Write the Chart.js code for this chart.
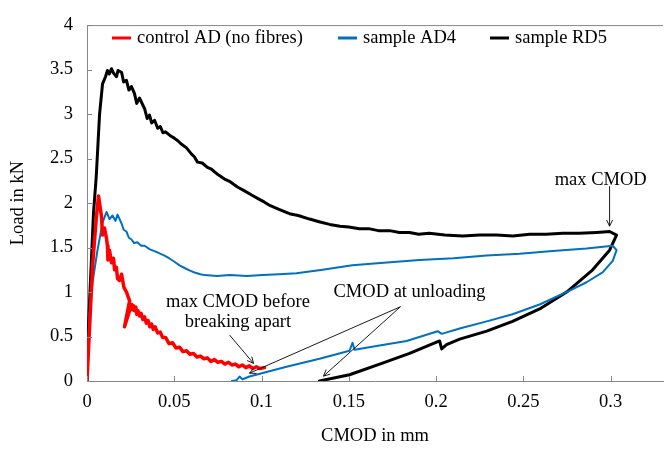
<!DOCTYPE html>
<html><head><meta charset="utf-8">
<script src="https://cdn.jsdelivr.net/npm/chart.js@4/dist/chart.umd.min.js"></script>
<style>html,body{margin:0;padding:0;background:#fff;}#wrap{width:665px;height:451px;}</style>
</head><body><div id="wrap"><canvas id="c" width="665" height="451"></canvas></div>
<script>
// ---- data ----
const xTickValues = [0, 0.05, 0.1, 0.15, 0.2, 0.25, 0.3];
const xTickLabels = ['0', '0.05', '0.1', '0.15', '0.2', '0.25', '0.3'];
const yTickValues = [0, 0.5, 1, 1.5, 2, 2.5, 3, 3.5, 4];
const yTickLabels = ['0', '0.5', '1', '1.5', '2', '2.5', '3', '3.5', '4'];
const seriesNames = ['control AD (no fibres)', 'sample AD4', 'sample RD5'];
const xTitle = 'CMOD in mm';
const yTitle = 'Load in kN';

const controlCMOD = [0,0.0032,0.0054,0.0066,0.0083,0.0089,0.0100,0.0112,0.0117,0.0120,0.0129,0.0140,0.0152,0.0158,0.0168,0.0175,0.0186,0.0198,0.0212,0.0226,0.0244,0.0215,0.0255,0.0260,0.0265,0.0272,0.0280,0.0285,0.0292,0.0301,0.0310,0.0320,0.0330,0.0340,0.0350,0.0360,0.0370,0.0380,0.0390,0.0405,0.0420,0.0433,0.0450,0.0470,0.0490,0.0510,0.0530,0.0550,0.0570,0.0590,0.0610,0.0630,0.0650,0.0670,0.0690,0.0710,0.0730,0.0750,0.0770,0.0790,0.0810,0.0830,0.0850,0.0870,0.0890,0.0910,0.0930,0.0950,0.0970,0.0990,0.1017];
const controlLoad = [0,1.30,1.85,2.08,1.85,1.64,1.72,1.60,1.52,1.36,1.47,1.33,1.38,1.25,1.28,1.15,1.13,1.20,1.05,1.00,0.90,0.61,0.86,0.80,0.85,0.79,0.83,0.75,0.79,0.73,0.76,0.69,0.72,0.65,0.68,0.61,0.64,0.58,0.61,0.54,0.55,0.49,0.49,0.42,0.43,0.37,0.38,0.33,0.34,0.30,0.31,0.27,0.28,0.25,0.26,0.22,0.24,0.21,0.22,0.19,0.21,0.18,0.19,0.16,0.18,0.15,0.17,0.14,0.16,0.14,0.15];

const ad4CMOD = [0,0.0014,0.0032,0.0060,0.0089,0.0112,0.0129,0.0146,0.0163,0.0175,0.0198,0.0210,0.0226,0.0240,0.0255,0.0270,0.0289,0.0310,0.0330,0.0360,0.0387,0.0410,0.0444,0.0470,0.0501,0.0530,0.0559,0.0590,0.0616,0.0650,0.0673,0.0745,0.0817,0.0915,0.1006,0.1100,0.1200,0.1350,0.1520,0.1700,0.1905,0.2100,0.2290,0.2480,0.2668,0.2862,0.3012,0.3034,0.3012,0.2954,0.2862,0.2748,0.2593,0.2438,0.2290,0.2135,0.2032,0.2009,0.1831,0.1676,0.1533,0.1521,0.1504,0.1332,0.1143,0.0931,0.0891,0.0874,0.0857,0.0830];
const ad4Load = [0,0.75,1.11,1.47,1.78,1.90,1.82,1.86,1.80,1.87,1.77,1.70,1.68,1.61,1.59,1.55,1.56,1.52,1.52,1.48,1.46,1.44,1.41,1.38,1.34,1.30,1.27,1.24,1.22,1.20,1.19,1.18,1.19,1.18,1.19,1.20,1.21,1.25,1.30,1.33,1.36,1.38,1.41,1.43,1.46,1.49,1.52,1.47,1.35,1.22,1.11,1.00,0.86,0.75,0.67,0.59,0.53,0.56,0.45,0.40,0.35,0.43,0.34,0.25,0.16,0.05,0.02,0.05,0.01,0];

const rd5CMOD = [0,0.0008,0.0037,0.0053,0.0072,0.0089,0.0106,0.0117,0.0128,0.0140,0.0152,0.0169,0.0178,0.0198,0.0210,0.0226,0.0240,0.0255,0.0272,0.0285,0.0301,0.0330,0.0345,0.0358,0.0370,0.0387,0.0405,0.0420,0.0435,0.0450,0.0475,0.0500,0.0520,0.0542,0.0570,0.0599,0.0615,0.0633,0.0660,0.0690,0.0713,0.0750,0.0788,0.0820,0.0862,0.0900,0.0943,0.0980,0.1017,0.1050,0.1100,0.1160,0.1210,0.1275,0.1330,0.1390,0.1450,0.1500,0.1560,0.1619,0.1670,0.1734,0.1790,0.1848,0.1900,0.1960,0.2050,0.2152,0.2250,0.2347,0.2440,0.2536,0.2630,0.2725,0.2820,0.2920,0.2994,0.3034,0.2994,0.2897,0.2748,0.2593,0.2438,0.2290,0.2135,0.2060,0.2032,0.2020,0.1848,0.1693,0.1504,0.1332];
const rd5Load = [0,0.60,1.88,2.30,3.00,3.34,3.42,3.49,3.45,3.51,3.46,3.42,3.49,3.47,3.36,3.38,3.27,3.31,3.23,3.12,3.18,3.06,2.95,2.99,2.90,2.93,2.84,2.86,2.79,2.80,2.76,2.73,2.70,2.66,2.62,2.55,2.52,2.46,2.45,2.40,2.38,2.32,2.27,2.24,2.18,2.14,2.09,2.05,2.01,1.97,1.93,1.88,1.86,1.82,1.79,1.76,1.74,1.73,1.71,1.71,1.69,1.69,1.67,1.67,1.65,1.66,1.64,1.63,1.64,1.64,1.63,1.65,1.65,1.66,1.66,1.67,1.68,1.64,1.47,1.25,1.00,0.81,0.67,0.56,0.47,0.41,0.36,0.45,0.31,0.20,0.07,0];

const pairs = (xs, ys) => xs.map((x, i) => ({x: x, y: ys[i]}));

const FONT = 'Liberation Serif, Times New Roman, serif';
const FS = 18.5;
const AXIS_COLOR = '#868686';

// annotations (data coordinates)
const notes = [
  {text: 'max CMOD', x: 0.2943, y: 2.26},
  {text: 'CMOD at unloading', x: 0.1848, y: 1.00},
  {text: 'max CMOD before', x: 0.0865, y: 0.89},
  {text: 'breaking apart', x: 0.0865, y: 0.665}
];
const arrows = [
  {x1: 0.2994, y1: 2.19, x2: 0.2994, y2: 1.74},
  {x1: 0.1796, y1: 0.835, x2: 0.0931, y2: 0.088},
  {x1: 0.1796, y1: 0.835, x2: 0.1355, y2: 0.055},
  {x1: 0.0817, y1: 0.516, x2: 0.0954, y2: 0.198}
];

const decor = {
  id: 'decor',
  afterDraw(chart) {
    const ctx = chart.ctx, a = chart.chartArea;
    const xs = chart.scales.x, ys = chart.scales.y;
    ctx.save();
    ctx.strokeStyle = AXIS_COLOR; ctx.lineWidth = 1;
    ctx.beginPath(); ctx.moveTo(a.left, a.top + 0.5); ctx.lineTo(a.right, a.top + 0.5); ctx.stroke();
    ctx.beginPath();
    xTickValues.forEach(v => { const p = Math.round(xs.getPixelForValue(v)) + 0.5; ctx.moveTo(p, a.bottom); ctx.lineTo(p, a.bottom - 5); });
    yTickValues.forEach(v => { const p = Math.round(ys.getPixelForValue(v)) + 0.5; ctx.moveTo(a.left, p); ctx.lineTo(a.left + 5, p); });
    ctx.stroke();
    ctx.font = FS + 'px ' + FONT; ctx.textBaseline = 'middle'; ctx.textAlign = 'left'; ctx.fillStyle = '#000';
    const legendX = [112, 338, 490];
    chart.data.datasets.forEach((ds, i) => {
      ctx.strokeStyle = ds.borderColor; ctx.lineWidth = 3;
      ctx.beginPath(); ctx.moveTo(legendX[i], 38); ctx.lineTo(legendX[i] + 19, 38); ctx.stroke();
      ctx.fillText(ds.label, legendX[i] + 25, 38);
    });
    ctx.textAlign = 'center';
    notes.forEach(n => ctx.fillText(n.text, xs.getPixelForValue(n.x), ys.getPixelForValue(n.y)));
    ctx.strokeStyle = '#000'; ctx.lineWidth = 0.9;
    arrows.forEach(r => {
      const x1 = xs.getPixelForValue(r.x1), y1 = ys.getPixelForValue(r.y1);
      const x2 = xs.getPixelForValue(r.x2), y2 = ys.getPixelForValue(r.y2);
      const ang = Math.atan2(y2 - y1, x2 - x1), L = 7, w = 0.45;
      ctx.beginPath(); ctx.moveTo(x1, y1); ctx.lineTo(x2, y2);
      ctx.moveTo(x2 - L * Math.cos(ang - w), y2 - L * Math.sin(ang - w));
      ctx.lineTo(x2, y2);
      ctx.lineTo(x2 - L * Math.cos(ang + w), y2 - L * Math.sin(ang + w));
      ctx.stroke();
    });
    ctx.restore();
  }
};

new Chart(document.getElementById('c'), {
  type: 'scatter',
  data: {
    datasets: [
      {label: seriesNames[0], data: pairs(controlCMOD, controlLoad), borderColor: '#FF0000', backgroundColor: '#FF0000', borderWidth: 3.5},
      {label: seriesNames[1], data: pairs(ad4CMOD, ad4Load), borderColor: '#0070C0', backgroundColor: '#0070C0', borderWidth: 2},
      {label: seriesNames[2], data: pairs(rd5CMOD, rd5Load), borderColor: '#000000', backgroundColor: '#000000', borderWidth: 3}
    ].map(d => Object.assign(d, {showLine: true, pointRadius: 0, pointHoverRadius: 0, tension: 0, fill: false, borderJoinStyle: 'round', borderCapStyle: 'round'}))
  },
  options: {
    responsive: false, animation: false, devicePixelRatio: 1,
    layout: {padding: {top: 17, right: 2, left: 0, bottom: 0}},
    plugins: {legend: {display: false}, tooltip: {enabled: false}},
    scales: {
      x: {
        type: 'linear', min: 0, max: 0.33,
        afterBuildTicks: s => { s.ticks = xTickValues.map(v => ({value: v})); },
        afterFit: s => { s.height = 70; },
        ticks: {callback: (v, i) => xTickLabels[i], font: {family: FONT, size: FS}, color: '#000', padding: 10, maxRotation: 0, autoSkip: false},
        grid: {drawOnChartArea: false, drawTicks: false},
        border: {color: AXIS_COLOR, width: 1},
        title: {display: true, text: xTitle, font: {family: FONT, size: FS}, color: '#000', padding: {top: 0, bottom: 4}}
      },
      y: {
        type: 'linear', min: 0, max: 4,
        afterBuildTicks: s => { s.ticks = yTickValues.map(v => ({value: v})); },
        afterFit: s => { s.width = 87; },
        ticks: {callback: (v, i) => yTickLabels[i], font: {family: FONT, size: FS}, color: '#000', padding: 14},
        grid: {drawOnChartArea: false, drawTicks: false},
        border: {color: AXIS_COLOR, width: 1},
        title: {display: true, text: yTitle, font: {family: FONT, size: FS}, color: '#000', padding: {top: 7, bottom: 0}}
      }
    }
  },
  plugins: [decor]
});
</script></body></html>
